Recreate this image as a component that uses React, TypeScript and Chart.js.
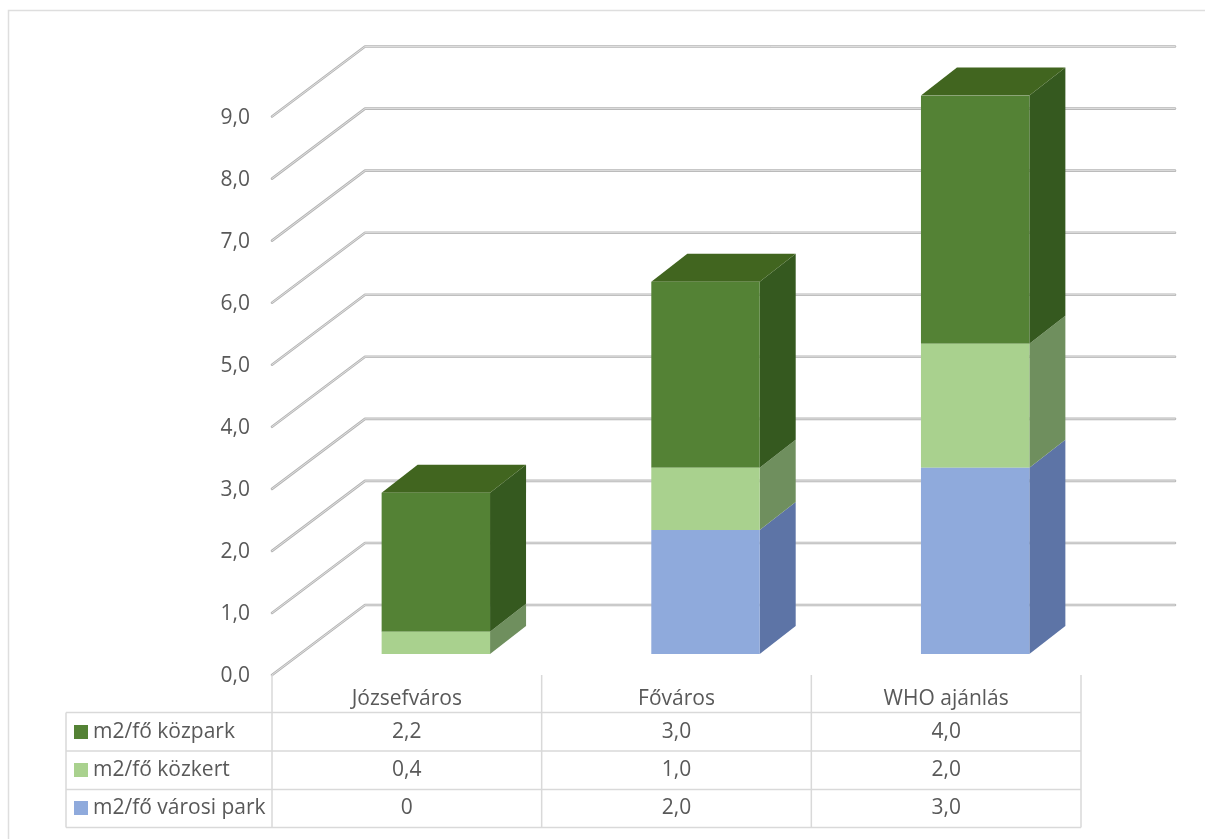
import React, { useEffect, useRef } from "react";
import { Chart, registerables } from "chart.js";

Chart.register(...registerables);

const categories = ["Józsefváros", "Főváros", "WHO ajánlás"];
const seriesNames = ["m2/fő városi park", "m2/fő közkert", "m2/fő közpark"];
const varosiPark = [0, 2.0, 3.0];
const kozkert = [0.36, 1.0, 2.0];
const kozpark = [2.24, 3.0, 4.0];
const varosiParkLabels = ["0", "2,0", "3,0"];
const kozkertLabels = ["0,4", "1,0", "2,0"];
const kozparkLabels = ["2,2", "3,0", "4,0"];
const frontColors = ["#8faadc", "#a9d18e", "#548235"];
const sideColors = ["#5d74a6", "#6f8f5e", "#35591f"];
const topColor = "#41651f";
const FONT = '"Open Sans", sans-serif';
const TEXT = "#595959";
const TABLE_LINE = "#d9d9d9";

const DEPTH_X = 36;
const DEPTH_Y = 28;

const chart3d = {
  id: "chart3d",
  beforeDatasetsDraw(chart: any) {
    const { ctx, scales } = chart;
    const y = scales.y;
    ctx.save();
    // frame
    ctx.strokeStyle = "#dedede";
    ctx.lineWidth = 1.5;
    ctx.beginPath();
    ctx.moveTo(8.5, 839);
    ctx.lineTo(8.5, 10.5);
    ctx.lineTo(1205, 10.5);
    ctx.stroke();
    // gridlines on floor-side and back walls
    for (let v = 0; v <= 9; v++) {
      const p = y.getPixelForValue(v);
      const path = () => {
        ctx.beginPath();
        ctx.moveTo(272, p + 21);
        ctx.lineTo(365, p - 49);
        ctx.lineTo(1175, p - 49);
      };
      ctx.lineJoin = "round";
      ctx.lineCap = "round";
      path();
      ctx.strokeStyle = "#b5b5b5";
      ctx.lineWidth = 2.6;
      ctx.stroke();
      path();
      ctx.strokeStyle = "#e4e4e4";
      ctx.lineWidth = 0.9;
      ctx.stroke();
    }
    // sides and tops of the bars, bottom to top
    const metas = chart.getSortedVisibleDatasetMetas();
    metas.forEach((meta: any, di: number) => {
      meta.data.forEach((bar: any, i: number) => {
        const props = bar.getProps(["x", "y", "base", "width"], true);
        const h = Math.abs(props.base - props.y);
        if (h < 0.5) return;
        const xr = props.x + props.width / 2;
        const xl = props.x - props.width / 2;
        ctx.fillStyle = sideColors[di];
        ctx.beginPath();
        ctx.moveTo(xr, props.base);
        ctx.lineTo(xr + DEPTH_X, props.base - DEPTH_Y);
        ctx.lineTo(xr + DEPTH_X, props.y - DEPTH_Y);
        ctx.lineTo(xr, props.y);
        ctx.closePath();
        ctx.fill();
        if (di === metas.length - 1) {
          ctx.fillStyle = topColor;
          ctx.beginPath();
          ctx.moveTo(xl, props.y);
          ctx.lineTo(xl + DEPTH_X, props.y - DEPTH_Y);
          ctx.lineTo(xr + DEPTH_X, props.y - DEPTH_Y);
          ctx.lineTo(xr, props.y);
          ctx.closePath();
          ctx.fill();
        }
      });
    });
    ctx.restore();
  },
  afterDraw(chart: any) {
    const { ctx, scales } = chart;
    const x = scales.x;
    const centers = categories.map((_, i) => x.getPixelForValue(i) - 29);
    const step = centers[1] - centers[0];
    const left = 66;
    const col0 = centers[0] - step / 2;
    const right = centers[2] + step / 2;
    const rows = [712.5, 751, 789.5, 827.5];
    const rowCenters = [732, 770, 808];
    ctx.save();
    ctx.strokeStyle = TABLE_LINE;
    ctx.lineWidth = 1.5;
    ctx.beginPath();
    rows.forEach((r) => {
      ctx.moveTo(left, r);
      ctx.lineTo(right, r);
    });
    ctx.moveTo(left, rows[0]);
    ctx.lineTo(left, rows[3]);
    for (let i = 0; i <= 3; i++) {
      const vx = col0 + step * i;
      ctx.moveTo(vx, 675);
      ctx.lineTo(vx, rows[3]);
    }
    ctx.stroke();

    const rowsData = [
      { name: seriesNames[2], color: frontColors[2], labels: kozparkLabels },
      { name: seriesNames[1], color: frontColors[1], labels: kozkertLabels },
      { name: seriesNames[0], color: frontColors[0], labels: varosiParkLabels },
    ];
    ctx.font = `21px ${FONT}`;
    ctx.fillStyle = TEXT;
    ctx.textBaseline = "middle";
    rowsData.forEach((row, r) => {
      ctx.fillStyle = row.color;
      ctx.fillRect(74, rowCenters[r] - 7, 14, 14);
      ctx.fillStyle = TEXT;
      ctx.textAlign = "left";
      ctx.fillText(row.name, 93, rowCenters[r] + 0.5);
      ctx.textAlign = "center";
      row.labels.forEach((l, i) => ctx.fillText(l, centers[i], rowCenters[r] + 0.5));
    });
    ctx.restore();
  },
};

export default function App() {
  const ref = useRef<HTMLCanvasElement>(null);
  useEffect(() => {
    const chart = new Chart(ref.current!, {
      type: "bar",
      plugins: [chart3d],
      data: {
        labels: categories,
        datasets: [
          { label: seriesNames[0], data: varosiPark, backgroundColor: frontColors[0] },
          { label: seriesNames[1], data: kozkert, backgroundColor: frontColors[1] },
          { label: seriesNames[2], data: kozpark, backgroundColor: frontColors[2] },
        ],
      },
      options: {
        responsive: false,
        animation: false,
        layout: { padding: { top: 95.55, right: 95, left: 0, bottom: 0 } },
        plugins: { legend: { display: false }, tooltip: { enabled: false }, title: { display: false } },
        datasets: { bar: { categoryPercentage: 1, barPercentage: 0.402 } },
        scales: {
          x: {
            stacked: true,
            grid: { display: false, drawTicks: false },
            border: { display: false },
            afterFit: (s: any) => { s.height = 185; },
            ticks: {
              autoSkip: false,
              maxRotation: 0,
              minRotation: 0,
              labelOffset: -29,
              padding: 32,
              color: TEXT,
              font: { family: FONT, size: 21 },
            },
          },
          y: {
            stacked: true,
            min: 0,
            max: 9,
            grid: { display: false, drawTicks: false },
            border: { display: false },
            afterFit: (s: any) => { s.width = 301; },
            ticks: {
              stepSize: 1,
              autoSkip: false,
              labelOffset: 22,
              padding: 51,
              color: TEXT,
              font: { family: FONT, size: 21 },
              callback: (v: any) => Number(v).toFixed(1).replace(".", ","),
            },
          },
        },
      },
    });
    return () => chart.destroy();
  }, []);
  return (
    <canvas
      ref={ref}
      width={1205}
      height={839}
      style={{ position: "absolute", left: 0, top: 0, width: 1205, height: 839, display: "block", background: "#fff" }}
    />
  );
}
